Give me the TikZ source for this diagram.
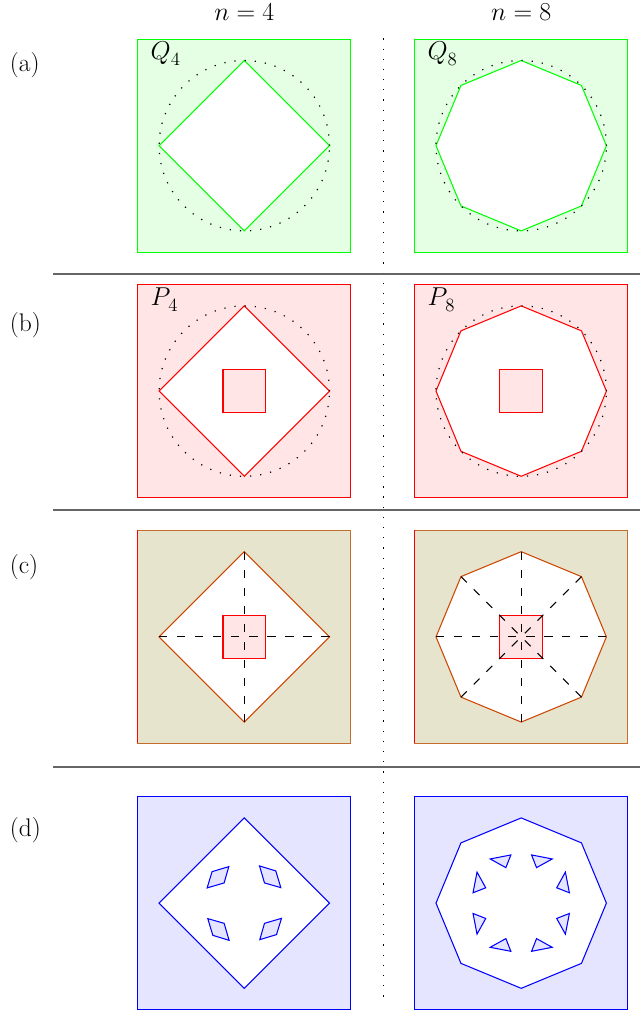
\documentclass[tikz,border=0pt]{standalone}
\usetikzlibrary{calc}
\definecolor{cfillc}{RGB}{230,228,205}
\definecolor{cedge}{RGB}{205,70,0}
\definecolor{cboxc}{RGB}{195,110,45}
\newcommand{\subsz}[1]{\raisebox{-0.22em}{\fontsize{12.5}{14}\selectfont #1}}
\begin{document}
\begin{tikzpicture}[font=\fontsize{17}{20}\selectfont, line width=0.7pt,
  sep/.style={line width=1.2pt, black!60},
  circdot/.style={line width=0.8pt, dash pattern=on 0.8pt off 6pt},
  spoke/.style={dash pattern=on 5.5pt off 6.5pt},
  lbl/.style={anchor=base west, inner sep=0pt},
  small/.style={fill=blue!10, draw=blue},
]
\useasboundingbox (0,0) rectangle (15.02,-23.756);
\def\polyF{(0:2)--(90:2)--(180:2)--(270:2)--cycle}
\def\polyE{(0:2)--(45:2)--(90:2)--(135:2)--(180:2)--(225:2)--(270:2)--(315:2)--cycle}
\def\xL{5.735}
\def\xR{12.235}
% column heads
\node[anchor=base] (h4) at (\xL,-0.49) {$n=4$};
\node[anchor=base] (h8) at (\xR,-0.49) {$n=8$};
% row labels
\node[lbl] (la) at (0.22,-1.69) {(a)};
\node[lbl] (lb) at (0.22,-7.78) {(b)};
\node[lbl] (lc) at (0.22,-13.46) {(c)};
\node[lbl] (ld) at (0.22,-19.64) {(d)};
% separators
\draw[circdot] (9.01,-0.9) -- (9.01,-23.55);
\draw[sep] (1.24,-6.43) -- (15.02,-6.43);
\draw[sep] (1.24,-11.97) -- (15.02,-11.97);
\draw[sep] (1.24,-18.0) -- (15.02,-18.0);
% row (a)
\begin{scope}[shift={(\xL,-3.42)}]
  \fill[green!10] (-2.5,-2.5) rectangle (2.5,2.5);
  \draw[green] (-2.5,-2.5) rectangle (2.5,2.5);
  \filldraw[fill=white, draw=green] \polyF;
  \draw[circdot] (0,0) circle (2);
  \node[lbl] (q4) at (-2.21,2.02) {$Q$\subsz{4}};
\end{scope}
\begin{scope}[shift={(\xR,-3.42)}]
  \fill[green!10] (-2.5,-2.5) rectangle (2.5,2.5);
  \draw[green] (-2.5,-2.5) rectangle (2.5,2.5);
  \filldraw[fill=white, draw=green] \polyE;
  \draw[circdot] (0,0) circle (2);
  \node[lbl] (q8) at (-2.21,2.02) {$Q$\subsz{8}};
\end{scope}
% row (b)
\begin{scope}[shift={(\xL,-9.18)}]
  \fill[red!10] (-2.5,-2.5) rectangle (2.5,2.5);
  \draw[red] (-2.5,-2.5) rectangle (2.5,2.5);
  \filldraw[fill=white, draw=red] \polyF;
  \filldraw[fill=red!10, draw=red] (-0.5,-0.5) rectangle (0.5,0.5);
  \draw[circdot] (0,0) circle (2);
  \node[lbl] (p4) at (-2.21,2.0) {$P$\kern-0.08em\subsz{4}};
\end{scope}
\begin{scope}[shift={(\xR,-9.18)}]
  \fill[red!10] (-2.5,-2.5) rectangle (2.5,2.5);
  \draw[red] (-2.5,-2.5) rectangle (2.5,2.5);
  \filldraw[fill=white, draw=red] \polyE;
  \filldraw[fill=red!10, draw=red] (-0.5,-0.5) rectangle (0.5,0.5);
  \draw[circdot] (0,0) circle (2);
  \node[lbl] (p8) at (-2.21,2.0) {$P$\kern-0.08em\subsz{8}};
\end{scope}
% row (c)
\begin{scope}[shift={(\xL,-14.95)}]
  \fill[cfillc] (-2.5,-2.5) rectangle (2.5,2.5);
  \draw[cboxc] (-2.5,-2.5) rectangle (2.5,2.5);
  \draw[red] (-2.5,-2.5) -- (-2.5,2.5);
  \filldraw[fill=white, draw=cedge] \polyF;
  \filldraw[fill=red!10, draw=red] (-0.5,-0.5) rectangle (0.5,0.5);
  \foreach \a in {0,90,180,270} \draw[spoke] (\a:2) -- (0,0);
\end{scope}
\begin{scope}[shift={(\xR,-14.95)}]
  \fill[cfillc] (-2.5,-2.5) rectangle (2.5,2.5);
  \draw[cboxc] (-2.5,-2.5) rectangle (2.5,2.5);
  \draw[red] (-2.5,-2.5) -- (-2.5,2.5);
  \filldraw[fill=white, draw=cedge] \polyE;
  \filldraw[fill=red!10, draw=red] (-0.5,-0.5) rectangle (0.5,0.5);
  \foreach \a in {0,45,...,315} \draw[spoke] (\a:2) -- (0,0);
\end{scope}
% row (d)
\begin{scope}[shift={(\xL,-21.20)}]
  \fill[blue!10] (-2.5,-2.5) rectangle (2.5,2.5);
  \draw[blue] (-2.5,-2.5) rectangle (2.5,2.5);
  \filldraw[fill=white, draw=blue] \polyF;
  \foreach \r in {0,90,180,270}
    \filldraw[small, rotate=\r] (-0.364,0.857)--(-0.474,0.474)--(-0.873,0.357)--(-0.756,0.739)--cycle;
\end{scope}
\begin{scope}[shift={(\xR,-21.20)}]
  \fill[blue!10] (-2.5,-2.5) rectangle (2.5,2.5);
  \draw[blue] (-2.5,-2.5) rectangle (2.5,2.5);
  \filldraw[fill=white, draw=blue] \polyE;
  \foreach \r in {0,90,180,270} {
    \filldraw[small, rotate=\r] (-0.728,1.037)--(-0.243,1.131)--(-0.360,0.833)--cycle;
    \filldraw[small, rotate=\r, xscale=-1] (-0.728,1.037)--(-0.243,1.131)--(-0.360,0.833)--cycle;
  }
\end{scope}
\end{tikzpicture}
\end{document}
